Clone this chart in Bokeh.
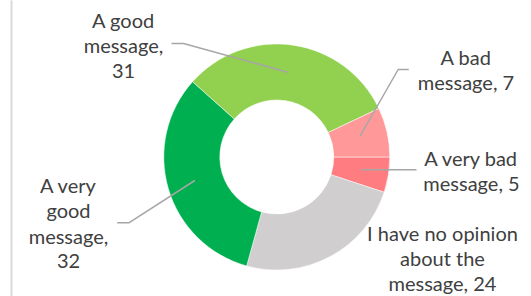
import math
import textwrap
from bokeh.plotting import figure
from bokeh.models import Range1d, ColumnDataSource
from bokeh.core.properties import value
from bokeh.embed import file_html
from bokeh.resources import INLINE

# Data (clockwise from 3 o'clock)
categories = ["A very bad message", "I have no opinion about the message",
              "A very good message", "A good message", "A bad message"]
values = [5, 24, 32, 31, 7]
colors = ["#FF7C80", "#D0CECE", "#00B050", "#92D050", "#FF9999"]

# Layout (screen pixel coordinates of the reference picture)
W, H = 531, 296
def X(sx):
    return sx
def Y(sy):
    return H - sy

CX, CY = 276.3, 156.5
R_OUT, R_IN = 113, 57

label_wrap = [10, 17, 8, 8, 10]
label_pos = [(471, 157.5), (442, 232.3), (68, 184.5), (123, 19.5), (465.5, 56.5)]
line_step = 25.3
leaders = [
    [(416, 169.3), (360.7, 169.3)],
    None,
    [(116.7, 222.3), (128.3, 222.3), (194.3, 180)],
    [(171, 43), (183, 43), (287.3, 71.7)],
    [(408.3, 69), (397.7, 69), (359.3, 136)],
]

p = figure(width=W, height=H, output_backend="svg", toolbar_location=None,
           x_range=Range1d(0, W), y_range=Range1d(0, H), min_border=0)
p.axis.visible = False
p.grid.visible = False
p.outline_line_color = None
p.background_fill_color = "white"

# chart-area left border
p.line([X(11), X(11)], [Y(-5), Y(H + 5)], line_color="#D9D9D9", line_width=2)

total = sum(values)
starts, ends = [], []
cum = 0
for v in values:
    a0 = -2 * math.pi * cum / total
    cum += v
    a1 = -2 * math.pi * cum / total
    starts.append(a1)
    ends.append(a0)

src = ColumnDataSource(dict(x=[X(CX)] * len(values), y=[Y(CY)] * len(values),
                            start=starts, end=ends, color=colors))
p.annular_wedge(x="x", y="y", inner_radius=R_IN, outer_radius=R_OUT,
                inner_radius_units="screen", outer_radius_units="screen",
                start_angle="start", end_angle="end", fill_color="color",
                line_color="white", line_width=0.5, source=src)

for ld in leaders:
    if ld is None:
        continue
    p.line([X(a) for a, b in ld], [Y(b) for a, b in ld],
           line_color="#A6A6A6", line_width=1.5)

tx, ty, tt = [], [], []
for cat, val, wrap, (lx, ly) in zip(categories, values, label_wrap, label_pos):
    lines = textwrap.wrap(f"{cat}, {val}", width=wrap)
    for i, ln in enumerate(lines):
        tx.append(X(lx))
        ty.append(Y(ly + i * line_step))
        tt.append(ln)

p.text(x=tx, y=ty, text=tt, text_font=value("Lato"), text_font_size="20px",
       text_color="#404040", text_align="center", text_baseline="middle")

open("out.html", "w").write(file_html(p, INLINE))
